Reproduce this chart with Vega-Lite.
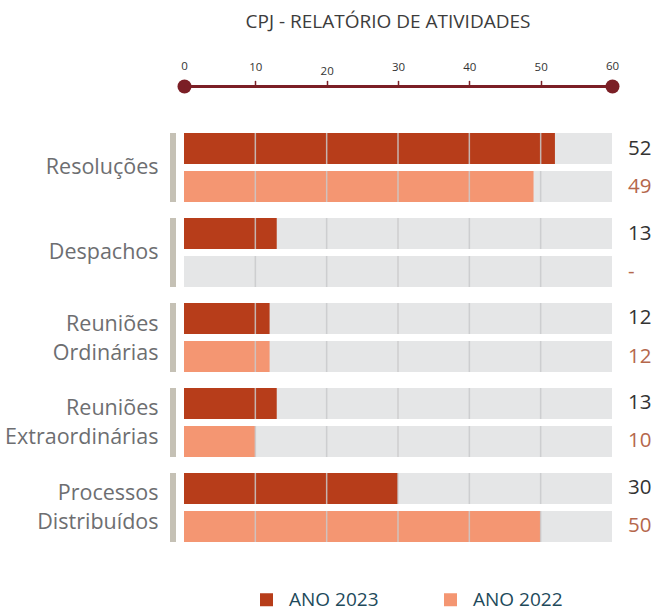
{
  "$schema": "https://vega.github.io/schema/vega-lite/v6.json",
  "width": 428,
  "height": 409,
  "autosize": {"type": "none"},
  "padding": {"left": 184, "top": 133, "right": 42, "bottom": 72},
  "title": {"text": "CPJ - RELATÓRIO DE ATIVIDADES", "fontSize": 19, "fontWeight": "normal", "color": "#3c3c3c", "font": "Open Sans", "offset": 29, "dx": -10},
  "config": {"view": {"stroke": null}, "font": "Open Sans"},
  "data": {"values": [
    {"categoria": "Resoluções", "ano": "ANO 2023", "valor": 52, "rotulo": "52"},
    {"categoria": "Resoluções", "ano": "ANO 2022", "valor": 49, "rotulo": "49"},
    {"categoria": "Despachos", "ano": "ANO 2023", "valor": 13, "rotulo": "13"},
    {"categoria": "Despachos", "ano": "ANO 2022", "valor": null, "rotulo": "-"},
    {"categoria": "Reuniões Ordinárias", "ano": "ANO 2023", "valor": 12, "rotulo": "12"},
    {"categoria": "Reuniões Ordinárias", "ano": "ANO 2022", "valor": 12, "rotulo": "12"},
    {"categoria": "Reuniões Extraordinárias", "ano": "ANO 2023", "valor": 13, "rotulo": "13"},
    {"categoria": "Reuniões Extraordinárias", "ano": "ANO 2022", "valor": 10, "rotulo": "10"},
    {"categoria": "Processos Distribuídos", "ano": "ANO 2023", "valor": 30, "rotulo": "30"},
    {"categoria": "Processos Distribuídos", "ano": "ANO 2022", "valor": 50, "rotulo": "50"}
  ]},
  "encoding": {
    "y": {
      "field": "categoria", "type": "nominal",
      "sort": ["Resoluções", "Despachos", "Reuniões Ordinárias", "Reuniões Extraordinárias", "Processos Distribuídos"],
      "scale": {"paddingInner": 0.188, "paddingOuter": 0},
      "axis": {"title": null, "ticks": false, "domain": false, "labelPadding": 26, "labelFontSize": 21.5, "labelColor": "#6d6e71", "labelLineHeight": 29, "labelExpr": "split(datum.value, ' ')", "labelAlign": "right", "labelBaseline": "middle",
        "labelOffset": {"condition": {"test": "indexof(datum.value, ' ') >= 0", "value": -13}, "value": 0}}
    }
  },
  "layer": [
    {
      "mark": {"type": "bar", "color": "#c5c1b5"},
      "encoding": {
        "x": {"datum": -1.96, "type": "quantitative", "scale": {"domain": [0, 60], "nice": false},
          "axis": {
            "title": null, "orient": "top", "offset": 47, "grid": false,
            "values": [0, 10, 20, 30, 40, 50, 60],
            "domainColor": "#7b1f26", "domainWidth": 3,
            "tickColor": "#7b1f26", "tickCap": "round",
            "tickWidth": {"condition": {"test": "datum.value == 0 || datum.value == 60", "value": 14}, "value": 1.5},
            "tickSize": {"condition": {"test": "datum.value == 0 || datum.value == 60", "value": 0.1}, "value": 5},
            "labelPadding": {"condition": [{"test": "datum.value == 20", "value": 5}, {"test": "datum.value == 0 || datum.value == 60", "value": 14}], "value": 9},
            "labelFontSize": 11.5, "labelColor": "#333333", "labelFlush": false
          }
        },
        "x2": {"datum": -1.12}
      }
    },
    {
      "mark": {"type": "bar", "color": "#e5e6e7"},
      "encoding": {
        "x": {"datum": 60, "type": "quantitative"},
        "yOffset": {"field": "ano", "type": "nominal", "sort": ["ANO 2023", "ANO 2022"], "scale": {"paddingInner": 0.184, "paddingOuter": 0}}
      }
    },
    {
      "mark": {"type": "bar"},
      "encoding": {
        "x": {"field": "valor", "type": "quantitative"},
        "yOffset": {"field": "ano", "type": "nominal", "sort": ["ANO 2023", "ANO 2022"]},
        "color": {
          "field": "ano", "type": "nominal",
          "scale": {"domain": ["ANO 2023", "ANO 2022"], "range": ["#b73d1a", "#f49672"]},
          "legend": {"title": null, "orient": "none", "legendX": 73, "legendY": 457, "direction": "horizontal", "symbolType": "square", "symbolSize": 169, "symbolStrokeWidth": 0, "labelFontSize": 19, "labelColor": "#1e4a5b", "columnPadding": 62, "labelOffset": 13}
        }
      }
    },
    {"mark": {"type": "tick", "color": "#c9c9cb", "opacity": 0.85, "thickness": 1.5, "size": 31}, "encoding": {"x": {"datum": 10}, "yOffset": {"field": "ano", "type": "nominal", "sort": ["ANO 2023", "ANO 2022"]}}},
    {"mark": {"type": "tick", "color": "#c9c9cb", "opacity": 0.85, "thickness": 1.5, "size": 31}, "encoding": {"x": {"datum": 20}, "yOffset": {"field": "ano", "type": "nominal", "sort": ["ANO 2023", "ANO 2022"]}}},
    {"mark": {"type": "tick", "color": "#c9c9cb", "opacity": 0.85, "thickness": 1.5, "size": 31}, "encoding": {"x": {"datum": 30}, "yOffset": {"field": "ano", "type": "nominal", "sort": ["ANO 2023", "ANO 2022"]}}},
    {"mark": {"type": "tick", "color": "#c9c9cb", "opacity": 0.85, "thickness": 1.5, "size": 31}, "encoding": {"x": {"datum": 40}, "yOffset": {"field": "ano", "type": "nominal", "sort": ["ANO 2023", "ANO 2022"]}}},
    {"mark": {"type": "tick", "color": "#c9c9cb", "opacity": 0.85, "thickness": 1.5, "size": 31}, "encoding": {"x": {"datum": 50}, "yOffset": {"field": "ano", "type": "nominal", "sort": ["ANO 2023", "ANO 2022"]}}},
    {
      "mark": {"type": "text", "align": "left", "baseline": "middle", "dx": 16, "fontSize": 20.5},
      "encoding": {
        "x": {"datum": 60},
        "yOffset": {"field": "ano", "type": "nominal", "sort": ["ANO 2023", "ANO 2022"]},
        "text": {"field": "rotulo"},
        "color": {"condition": {"test": "datum.ano == 'ANO 2023'", "value": "#333333"}, "value": "#b5674c"}
      }
    }
  ]
}
